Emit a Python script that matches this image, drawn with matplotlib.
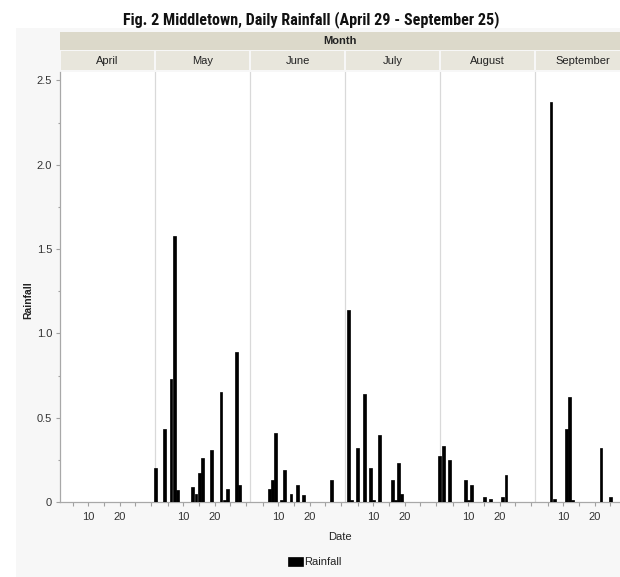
import matplotlib.pyplot as plt
from matplotlib.patches import Rectangle
import numpy as np

# daily rainfall per month (day of month, inches)
months = ['April', 'May', 'June', 'July', 'August', 'September']

apr_days = []
apr_rain = []
may_days = [1, 4, 6, 7, 8, 13, 14, 15, 16, 19, 22, 23, 24, 27, 28]
may_rain = [0.20, 0.43, 0.73, 1.58, 0.07, 0.09, 0.05, 0.17, 0.26, 0.31, 0.65, 0.01, 0.08, 0.89, 0.10]
jun_days = [7, 8, 9, 11, 12, 14, 16, 18, 27]
jun_rain = [0.08, 0.13, 0.41, 0.01, 0.19, 0.05, 0.10, 0.04, 0.13]
jul_days = [2, 3, 5, 7, 9, 10, 12, 16, 17, 18, 19, 31]
jul_rain = [1.14, 0.01, 0.32, 0.64, 0.20, 0.01, 0.40, 0.13, 0.01, 0.23, 0.05, 0.27]
aug_days = [2, 4, 9, 10, 11, 15, 17, 21, 22]
aug_rain = [0.33, 0.25, 0.13, 0.01, 0.10, 0.03, 0.02, 0.03, 0.16]
sep_days = [6, 7, 11, 12, 13, 22, 25]
sep_rain = [2.37, 0.02, 0.43, 0.62, 0.01, 0.32, 0.03]

all_days = [apr_days, may_days, jun_days, jul_days, aug_days, sep_days]
all_rain = [apr_rain, may_rain, jun_rain, jul_rain, aug_rain, sep_rain]

FW, FH = 620, 577
def fx(x):
    return x / FW
def fy(y):
    return 1 - y / FH

plt.rcParams['font.family'] = ['Liberation Sans', 'DejaVu Sans']

fig = plt.figure(figsize=(6.2, 5.77), dpi=100)
fig.patch.set_facecolor('white')
# light grey report background
fig.patches.append(Rectangle((fx(16), 0), 1, fy(28), transform=fig.transFigure,
                             facecolor='#f7f7f7', edgecolor='none', zorder=-5))

# one axis, each month panel is W days wide
W = 30.35
X0 = 0.9
ax = fig.add_axes([fx(60), fy(502), 570 / FW, 430 / FH])
ax.set_zorder(2)
ax.set_facecolor('white')

for i in range(len(months)):
    x = i * W + np.array(all_days[i], dtype=float) - X0
    ax.bar(x, all_rain[i], width=0.92, color='black', edgecolor='black', linewidth=0.5,
           label='Rainfall' if i == 1 else None, zorder=3)

for i in range(1, len(months)):
    ax.axvline(i * W, color='#d9d9d9', lw=0.9, zorder=1)

ax.set_xlim(0, 6 * W)
ax.set_ylim(0, 2.55)

xt, xl = [], []
for i in range(len(months)):
    for d in range(5, 31, 5):
        xt.append(i * W + d - X0)
        xl.append(str(d) if d in (10, 20) else '')
ax.set_xticks(xt)
ax.set_xticklabels(xl)
ax.set_yticks([0, 0.5, 1.0, 1.5, 2.0, 2.5])
ax.set_yticklabels(['0', '0.5', '1.0', '1.5', '2.0', '2.5'])
ax.set_yticks(np.arange(0.25, 2.5, 0.5), minor=True)

ax.tick_params(axis='both', which='major', length=3.2, width=0.8, color='#a0a0a0',
               labelsize=8, labelcolor='#333333')
ax.tick_params(axis='x', pad=4)
ax.tick_params(axis='y', pad=2.5)
ax.tick_params(axis='y', which='minor', length=1.6, width=0.8, color='#a0a0a0')

for s in ['top', 'right']:
    ax.spines[s].set_visible(False)
for s in ['left', 'bottom']:
    ax.spines[s].set_color('#a8a8a8')
    ax.spines[s].set_linewidth(0.9)

# header rows
fig.patches.append(Rectangle((fx(60), fy(50)), 570 / FW, 18 / FH, transform=fig.transFigure,
                             facecolor='#dcd9ca', edgecolor='none', zorder=1))
for i, m in enumerate(months):
    left = 60 + 95 * i
    fig.patches.append(Rectangle((fx(left + 1), fy(70)), 93 / FW, 19 / FH,
                                 transform=fig.transFigure, facecolor='#e8e6dc',
                                 edgecolor='none', zorder=1))
    fig.text(fx(left + 47.5), fy(60.5), m, ha='center', va='center', fontsize=8, color='#222222')
fig.text(fx(340), fy(41), 'Month', ha='center', va='center', fontsize=8,
         fontweight='bold', color='#222222')

fig.text(fx(311), fy(20), 'Fig. 2 Middletown, Daily Rainfall (April 29 - September 25)',
         ha='center', va='center', fontsize=11.6, fontweight='bold', color='#111111',
         family=['Liberation Sans Narrow', 'DejaVu Sans Condensed', 'Roboto Condensed', 'Roboto'])

fig.text(fx(28), fy(300), 'Rainfall', rotation=90, ha='center', va='center',
         fontsize=7.5, fontweight='bold', color='#222222')
fig.text(fx(340), fy(537), 'Date', ha='center', va='center', fontsize=8, color='#222222')

fig.legend(loc='center', bbox_to_anchor=(fx(315), fy(562)), frameon=False, fontsize=8,
           handlelength=1.3, handleheight=0.9, handletextpad=0.15, labelcolor='#222222')

fig.savefig('out.png', dpi=100)
